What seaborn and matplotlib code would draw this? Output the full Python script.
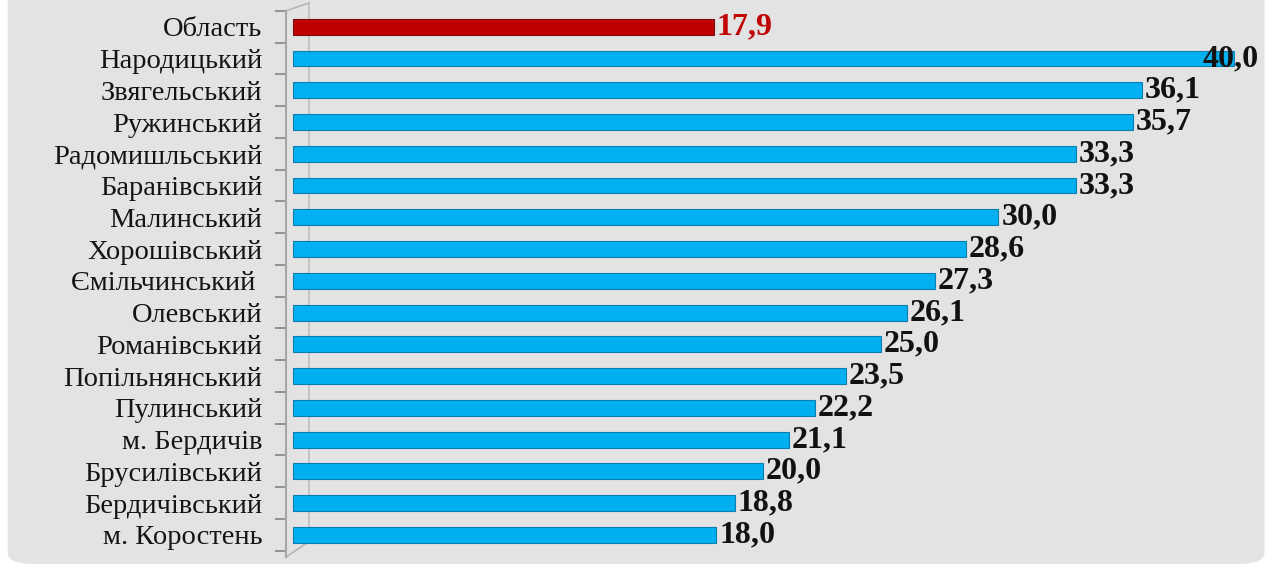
import matplotlib
matplotlib.use("Agg")
import matplotlib.pyplot as plt
from matplotlib.patches import FancyBboxPatch
import pandas as pd
import seaborn as sns

rayony = ["Область", "Народицький", "Звягельський", "Ружинський", "Радомишльський",
          "Баранівський", "Малинський", "Хорошівський", "Ємільчинський ", "Олевський",
          "Романівський", "Попільнянський", "Пулинський", "м. Бердичів", "Брусилівський",
          "Бердичівський", "м. Коростень"]
znachennia = [17.9, 40.0, 36.1, 35.7, 33.3, 33.3, 30.0, 28.6, 27.3, 26.1,
              25.0, 23.5, 22.2, 21.1, 20.0, 18.8, 18.0]
kolory = ["#c00000"] + ["#00b0f0"] * 16

df = pd.DataFrame({"rayon": rayony, "value": znachennia})

sns.set_style("white")
plt.rcParams["font.family"] = ["Liberation Serif", "DejaVu Serif"]

fig = plt.figure(figsize=(12.76, 5.72), dpi=100, facecolor="white")
fig.patches.append(FancyBboxPatch((0.006, 0.014), 0.985, 1.1, boxstyle="round,pad=0,rounding_size=0.02",
                                  transform=fig.transFigure, facecolor="#e3e3e3", edgecolor="none", zorder=-10))
ax = fig.add_axes([0.224, 0.026, 0.776, 0.955])
ax.set_facecolor("none")

sns.barplot(data=df, y="rayon", x="value", hue="rayon", palette=kolory, legend=False,
            orient="h", width=0.5, ax=ax, saturation=1, zorder=3)
for p, c in zip(ax.patches, kolory):
    p.set_edgecolor("#7a1010" if c == "#c00000" else "#0a7fb0")
    p.set_linewidth(0.8)

ax.set_xlim(-0.3, 41.8)
ax.set_ylim(16.7, -0.5)
ax.set_xlabel("")
ax.set_ylabel("")
ax.set_xticks([])
for s in ["top", "right", "bottom"]:
    ax.spines[s].set_visible(False)
ax.spines["left"].set_color("#a6a6a6")
ax.spines["left"].set_linewidth(1.5)

# 3D-style back wall line
ax.plot([0.7, 0.7], [-0.75, 16.2], color="#c0c0c0", lw=1.2, zorder=1, clip_on=False)
ax.plot([-0.3, 0.7], [-0.5, -0.75], color="#b5b5b5", lw=1.2, zorder=1, clip_on=False)
ax.plot([-0.3, 0.7], [16.7, 16.2], color="#b5b5b5", lw=1.2, zorder=1, clip_on=False)

ax.set_yticks(range(len(rayony)))
ax.set_yticklabels(rayony, fontsize=20.5, color="#141414")
ax.set_yticks([i - 0.5 for i in range(len(rayony) + 1)], minor=True)
ax.tick_params(axis="y", which="major", left=False, length=0, pad=17)
ax.tick_params(axis="y", which="minor", left=True, length=8, width=1.3, color="#8c8c8c", direction="out")

for i, v in enumerate(znachennia):
    tekst = f"{v:.1f}".replace(".", ",")
    if v == max(znachennia):
        ax.annotate(tekst, (v, i), xytext=(18, 0), textcoords="offset points", ha="right",
                    va="center", fontsize=23, fontweight="bold", color="#111111", zorder=5)
    else:
        ax.annotate(tekst, (v, i), xytext=(2, 0), textcoords="offset points", ha="left",
                    va="center", fontsize=23, fontweight="bold", color=kolory[i] if i == 0 else "#111111")

plt.savefig("out.png", dpi=100, facecolor="white")
